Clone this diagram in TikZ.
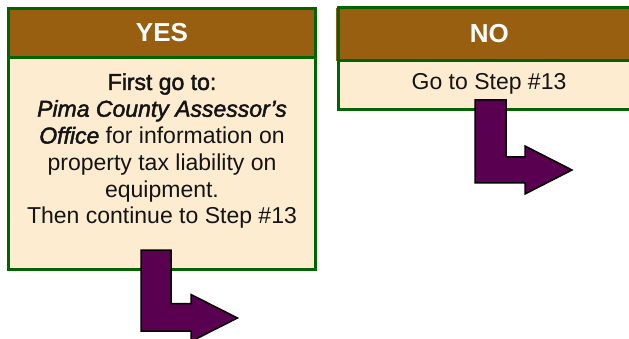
\documentclass[tikz,border=0pt]{standalone}
\usepackage{fontspec}
\setmainfont{Liberation Sans}
\newfontfamily\medfont[FakeBold=2,ItalicFeatures={FakeBold=2}]{Liberation Sans}
\definecolor{boxgreen}{RGB}{0,100,0}
\definecolor{headbrown}{RGB}{152,95,17}
\definecolor{bodycream}{RGB}{253,236,208}
\definecolor{arrowpurple}{RGB}{90,0,80}
\definecolor{txt}{RGB}{20,20,20}
\begin{document}
\begin{tikzpicture}[x=1pt,y=-1pt,
  headbox/.style={draw=boxgreen,line width=3pt,fill=headbrown,inner sep=0pt,outer sep=0pt,
    text=white,font=\bfseries\fontsize{26}{30}\selectfont},
  bodybox/.style={draw=boxgreen,line width=3pt,fill=bodycream,inner sep=0pt,outer sep=0pt},
  bodytext/.style={inner sep=0pt,text=txt,align=center,font=\fontsize{23}{26.8}\selectfont},
  bendarrow/.style={draw=black,line width=1.5pt,fill=arrowpurple,line join=miter}]
\useasboundingbox (0,0) rectangle (629,339);
\clip (0,0) rectangle (629,339);
% YES column
\node[bodybox,minimum width=307pt,minimum height=212pt] (yesbody) at (162,163.5) {};
\node[headbox,minimum width=307pt,minimum height=49pt] (yeshead) at (162,33) {YES};
\node[bodytext] (yestext) at (162,151) {{\medfont First go to:}\\
{\medfont\itshape Pima County Assessor’s}\\
{\medfont\itshape Office} for information on\\
property tax liability on\\
equipment.\\
Then continue to Step \#13};
% NO column
\fill[headbrown] (336,8) rectangle (340,61);
\node[bodybox,minimum width=301.5pt,minimum height=49pt] (nobody) at (489.25,85) {};
\node[headbox,minimum width=301.5pt,minimum height=53pt] (nohead) at (489.25,34) {NO};
\node[bodytext,anchor=base] (notext) at (489,89.5) {Go to Step \#13};
% bent arrows
\draw[bendarrow] (141,250) -- (171,250) -- (171,303.5) -- (191,303.5) -- (191,294.5)
  -- (237.5,318) -- (191,341.5) -- (191,331) -- (141,331) -- cycle;
\draw[bendarrow] (475,100) -- (506,100) -- (506,157) -- (525,157) -- (525,146)
  -- (572,170) -- (525,194) -- (525,183) -- (475,183) -- cycle;
\end{tikzpicture}
\end{document}
